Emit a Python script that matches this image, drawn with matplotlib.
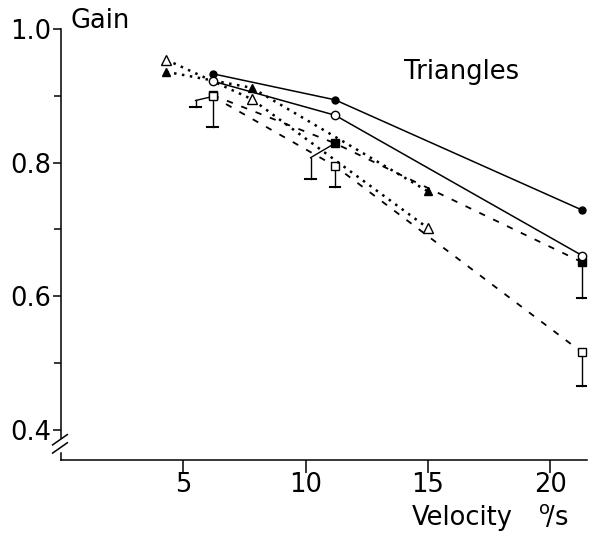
import numpy as np
import matplotlib.pyplot as plt

plt.rcParams['font.family'] = ['DejaVu Sans']

# velocities (deg/s) and gains
vel_main = [6.2, 11.2, 21.3]
vel_tri = [4.3, 7.8, 15.0]

gain_fcirc = [0.933, 0.894, 0.729]   # solid, filled circles
gain_ocirc = [0.922, 0.871, 0.661]   # solid, open circles
gain_fsq = [0.901, 0.829, 0.651]     # dashed, filled squares
sd_fsq = [0.048, 0.054, 0.054]
gain_osq = [0.899, 0.795, 0.516]     # dashed, open squares
sd_osq = [0.015, 0.032, 0.050]
gain_ftri = [0.936, 0.912, 0.757]    # dotted, filled triangles
gain_otri = [0.954, 0.895, 0.702]    # dotted, open triangles

# horizontal offset of displaced error bars (0 = drawn straight down)
shift_fsq = [0.0, -1.0, 0.0]
shift_osq = [-0.7, 0.0, 0.0]

xticks = [5, 10, 15, 20]
yticks = [0.4, 0.6, 0.8, 1.0]
yminor = [0.5, 0.7, 0.9]

W, H = 595, 537
fig = plt.figure(figsize=(W / 100, H / 100), dpi=100)
ax = fig.add_axes([61 / W, (H - 460) / H, (587 - 61) / W, (460 - 29) / H])
ax.set_xlim(0, 21.5)
ax.set_ylim(0.355, 1.0)

k = 'black'
dot = (0, (1, 2.2))
dash = (0, (3.5, 5))

ax.plot(vel_main, gain_fcirc, '-', color=k, lw=1.1, marker='o', ms=5,
        mfc=k, mec=k, zorder=4)
ax.plot(vel_main, gain_ocirc, '-', color=k, lw=1.1, marker='o', ms=6,
        mfc='white', mec=k, mew=1.0, zorder=4)
ax.plot(vel_main, gain_fsq, color=k, lw=1.3, ls=dash, marker='s', ms=6,
        mfc=k, mec=k, zorder=3)
ax.plot(vel_main, gain_osq, color=k, lw=1.3, ls=dash, marker='s', ms=6,
        mfc='white', mec=k, mew=1.0, zorder=3)
ax.plot(vel_tri, gain_ftri, color=k, lw=1.8, ls=dot, marker='^', ms=6,
        mfc=k, mec=k, zorder=3)
ax.plot(vel_tri, gain_otri, color=k, lw=1.8, ls=dot, marker='^', ms=6.5,
        mfc='white', mec=k, mew=1.0, zorder=3)


# error bars, pointing down only, some displaced sideways
def down_bars(xs, ys, sds, shifts):
    for x, y, s, dx in zip(xs, ys, sds, shifts):
        xb = x + dx
        if dx != 0:
            drop = min(0.025, s * 0.4)
            ax.plot([x, xb], [y, y - drop], color=k, lw=1.0, zorder=2)
            top = y - drop
        else:
            top = y
        ax.plot([xb, xb], [top, y - s], color=k, lw=1.0, zorder=2)
        ax.plot([xb - 0.22, xb + 0.22], [y - s, y - s], color=k, lw=1.5,
                zorder=2)


down_bars(vel_main, gain_fsq, sd_fsq, shift_fsq)
down_bars(vel_main, gain_osq, sd_osq, shift_osq)

# axes styling
for side in ['top', 'right']:
    ax.spines[side].set_visible(False)
ax.spines['left'].set_bounds(0.388, 1.0)
ax.spines['left'].set_linewidth(1.1)
ax.spines['bottom'].set_linewidth(1.1)

ax.set_xticks(xticks)
ax.set_xticklabels([str(t) for t in xticks])
ax.set_yticks(yticks)
ax.set_yticklabels([f'{t:.1f}' for t in yticks])
ax.set_yticks(yminor, minor=True)
ax.tick_params(axis='x', direction='out', length=9, width=1.1, pad=0,
               labelsize=18.5)
ax.tick_params(axis='y', which='major', direction='out', length=6, width=1.1,
               pad=1, labelsize=18.5)
ax.tick_params(axis='y', which='minor', direction='out', length=5, width=1.1)

# axis break on the y axis
tr = ax.transAxes
ax.plot([0, 0], [0, 0.016], color=k, lw=1.1, transform=tr, clip_on=False)
for yb in [0.028, 0.047]:
    ax.plot([-0.016, 0.012], [yb - 0.012, yb + 0.012], color=k, lw=1.1,
            transform=tr, clip_on=False)

# labels
ax.text(0.4, 0.993, 'Gain', fontsize=18.5, ha='left', va='bottom',
        clip_on=False)
ax.text(14.0, 0.925, 'Triangles', fontsize=18.5, ha='left', va='baseline')
fig.text(412 / W, 1 - 525 / H, 'Velocity', fontsize=18.5, ha='left',
         va='baseline')
fig.text(538 / W, 1 - 525 / H, r'$^{\mathrm{o}}\!$/s', fontsize=18.5,
         ha='left', va='baseline')

fig.savefig('out.png', dpi=100)
